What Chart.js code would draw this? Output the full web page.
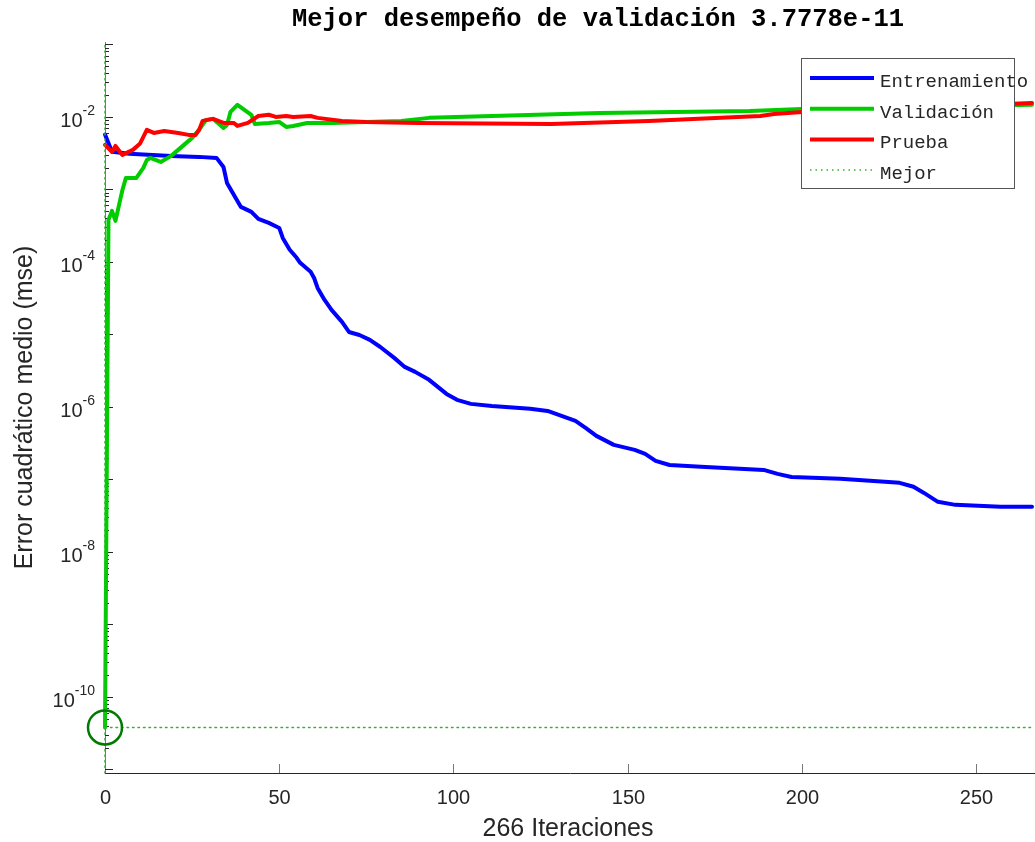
<!DOCTYPE html>
<html>
<head>
<meta charset="utf-8">
<script src="https://cdn.jsdelivr.net/npm/chart.js@4/dist/chart.umd.min.js"></script>
<style>
    body { margin: 0; background: #ffffff; }
    #perf { position: absolute; left: 0; top: 0; }
</style>
</head>
<body>
<canvas id="perf" width="1035" height="842"></canvas>
<script>
// epochs and mse
let trainEpochs = [0, 2, 7, 19, 27, 32, 34, 35, 37, 39, 42, 44, 47, 50, 51, 53, 55, 56, 59, 60,
    61, 63, 65, 68, 70, 73, 76, 79, 83, 86, 89, 93, 98, 101, 105, 111, 122, 127, 131, 135,
    138, 141, 146, 152, 155, 158, 162, 171, 189, 193, 197, 211, 228, 232, 235, 239, 244, 257, 266];
let trainMse = [5.7e-3, 3.3e-3, 3.1e-3, 2.9e-3, 2.81e-3, 2.72e-3, 2.04e-3, 1.23e-3, 8.4e-4, 5.74e-4,
    4.9e-4, 3.92e-4, 3.45e-4, 2.94e-4, 2.14e-4, 1.47e-4, 1.14e-4, 9.7e-5, 7.3e-5, 6.0e-5,
    4.38e-5, 2.99e-5, 2.18e-5, 1.49e-5, 1.08e-5, 9.8e-6, 8.4e-6, 6.7e-6, 4.74e-6, 3.56e-6,
    3.04e-6, 2.36e-6, 1.51e-6, 1.25e-6, 1.1e-6, 1.03e-6, 9.4e-7, 8.8e-7, 7.5e-7, 6.4e-7,
    5.1e-7, 3.98e-7, 2.99e-7, 2.55e-7, 2.25e-7, 1.8e-7, 1.58e-7, 1.49e-7, 1.35e-7, 1.19e-7,
    1.08e-7, 1.02e-7, 8.95e-8, 7.9e-8, 6.5e-8, 4.9e-8, 4.45e-8, 4.18e-8, 4.18e-8];

let valEpochs = [0, 1, 2, 3, 5, 6, 9, 11, 12, 13, 16, 19, 22, 24, 25, 27, 29, 31, 34, 35,
    36, 38, 40, 42, 43, 47, 50, 52, 54, 58, 65, 85, 93, 142, 185, 200, 266];
let valMse = [3.7778e-11, 3.8e-4, 5.05e-4, 3.68e-4, 9.8e-4, 1.44e-3, 1.44e-3, 1.98e-3, 2.55e-3, 2.72e-3,
    2.39e-3, 2.9e-3, 3.86e-3, 4.67e-3, 5.13e-3, 6.62e-3, 9.1e-3, 9.4e-3, 7.05e-3, 7.76e-3,
    1.17e-2, 1.47e-2, 1.25e-2, 1.07e-2, 8.0e-3, 8.26e-3, 8.53e-3, 7.28e-3, 7.51e-3, 8.26e-3,
    8.26e-3, 8.81e-3, 9.7e-3, 1.13e-2, 1.21e-2, 1.29e-2, 1.47e-2];

let testEpochs = [0, 2, 3, 5, 8, 10, 12, 14, 17, 21, 24, 26, 27, 28, 31, 34, 37, 38, 41, 44,
    47, 49, 52, 54, 59, 61, 68, 75, 90, 128, 156, 188, 192, 200, 266];
let testMse = [4.11e-3, 3.29e-3, 3.98e-3, 2.99e-3, 3.51e-3, 4.25e-3, 6.62e-3, 6.01e-3, 6.41e-3, 6.01e-3,
    5.65e-3, 5.65e-3, 6.62e-3, 8.81e-3, 9.4e-3, 8.26e-3, 8.26e-3, 7.51e-3, 8.26e-3, 1.03e-2,
    1.07e-2, 1.0e-2, 1.03e-2, 1.0e-2, 1.03e-2, 9.7e-3, 8.81e-3, 8.53e-3, 8.26e-3, 8.0e-3,
    8.81e-3, 1.03e-2, 1.1e-2, 1.17e-2, 1.56e-2];

let bestEpoch = 0;
let bestMse = 3.7778e-11;
let totalEpochs = 266;

let xTicks = [0, 50, 100, 150, 200, 250];
let yTickExps = [-10, -8, -6, -4, -2];

let legendNames = ["Entrenamiento", "Validación", "Prueba", "Mejor"];
let titleText = "Mejor desempeño de validación " + bestMse.toExponential(4);

let yMin = 8.9e-12;
let yMax = 0.108;

function pts(xs, ys) {
    return xs.map((x, i) => ({ x: x, y: ys[i] }));
}

const axisColor = "#262626";
const sans = "'Liberation Sans', Arial, Helvetica, sans-serif";
const mono = "'Liberation Mono', 'Courier New', monospace";

/* axes, ticks and tick labels drawn like the original figure */
const matlabAxes = {
    id: "matlabAxes",
    beforeDatasetsDraw(c) {
        let ctx = c.ctx;
        let a = c.chartArea;
        let xs = c.scales.x;
        let ys = c.scales.y;
        ctx.save();

        // bottom axis line
        ctx.strokeStyle = axisColor;
        ctx.lineWidth = 1;
        ctx.beginPath();
        ctx.moveTo(a.left, Math.round(a.bottom) + 0.5);
        ctx.lineTo(a.right + 5, Math.round(a.bottom) + 0.5);
        ctx.stroke();

        // left axis line
        ctx.strokeStyle = "#777777";
        ctx.beginPath();
        ctx.moveTo(a.left + 0.5, a.top);
        ctx.lineTo(a.left + 0.5, a.bottom);
        ctx.stroke();

        // x ticks
        ctx.strokeStyle = "#777777";
        ctx.fillStyle = axisColor;
        ctx.font = "20px " + sans;
        ctx.textAlign = "center";
        ctx.textBaseline = "middle";
        xTicks.forEach(t => {
            let px = Math.round(xs.getPixelForValue(t)) + 0.5;
            ctx.beginPath();
            ctx.moveTo(px, a.bottom);
            ctx.lineTo(px, a.bottom - 9);
            ctx.stroke();
            ctx.fillText(String(t), px, a.bottom + 25);
        });

        // y ticks, major and minor
        ctx.strokeStyle = axisColor;
        for (let e = -12; e <= -1; e++) {
            for (let m = 1; m <= 9; m++) {
                let v = m * Math.pow(10, e);
                if (v < yMin || v > yMax) continue;
                let py = Math.round(ys.getPixelForValue(v)) + 0.5;
                ctx.beginPath();
                ctx.moveTo(a.left, py);
                ctx.lineTo(a.left + (m === 1 ? 8 : 4), py);
                ctx.stroke();
            }
        }

        // y tick labels 10^n
        yTickExps.forEach(e => {
            let py = ys.getPixelForValue(Math.pow(10, e));
            let right = a.left - 10;
            ctx.font = "14px " + sans;
            let sup = "-" + String(-e);
            let supW = ctx.measureText(sup).width;
            ctx.textAlign = "left";
            ctx.textBaseline = "alphabetic";
            ctx.fillText(sup, right - supW, py - 2);
            ctx.font = "20px " + sans;
            ctx.textAlign = "right";
            ctx.fillText("10", right - supW, py + 10);
        });

        ctx.restore();
    },
    afterDatasetsDraw(c) {
        let ctx = c.ctx;
        let a = c.chartArea;
        let xs = c.scales.x;
        let ys = c.scales.y;
        ctx.save();

        // circle on the best validation epoch
        ctx.strokeStyle = "#007a00";
        ctx.lineWidth = 2.5;
        ctx.beginPath();
        ctx.arc(xs.getPixelForValue(bestEpoch), ys.getPixelForValue(bestMse), 17, 0, Math.PI * 2);
        ctx.stroke();

        // legend box
        let bx = 801, by = 58, bw = 213, bh = 130;
        ctx.fillStyle = "#ffffff";
        ctx.fillRect(bx, by, bw, bh);
        ctx.strokeStyle = "#555555";
        ctx.lineWidth = 1;
        ctx.strokeRect(bx + 0.5, by + 0.5, bw, bh);

        let rows = [
            { name: legendNames[0], color: "#0000ff", dash: [], w: 4 },
            { name: legendNames[1], color: "#00cc00", dash: [], w: 4 },
            { name: legendNames[2], color: "#ff0000", dash: [], w: 4 },
            { name: legendNames[3], color: "#33b033", dash: [1.5, 4], w: 1.5 }
        ];
        ctx.font = "19px " + mono;
        ctx.textAlign = "left";
        ctx.textBaseline = "middle";
        rows.forEach((r, i) => {
            let ly = 78 + i * 30.7;
            ctx.strokeStyle = r.color;
            ctx.lineWidth = r.w;
            ctx.setLineDash(r.dash);
            ctx.beginPath();
            ctx.moveTo(810, ly);
            ctx.lineTo(874, ly);
            ctx.stroke();
            ctx.setLineDash([]);
            ctx.fillStyle = "#262626";
            ctx.fillText(r.name, 880, ly + 4);
        });

        // title
        ctx.fillStyle = "#000000";
        ctx.font = "bold 25.5px " + mono;
        ctx.textAlign = "center";
        ctx.textBaseline = "middle";
        ctx.fillText(titleText, 598, 20);

        // axis titles
        ctx.fillStyle = axisColor;
        ctx.font = "25px " + sans;
        ctx.fillText(totalEpochs + " Iteraciones", 568, 829);

        ctx.textBaseline = "alphabetic";
        ctx.translate(32, (a.top + a.bottom) / 2);
        ctx.rotate(-Math.PI / 2);
        ctx.fillText("Error cuadrático medio (mse)", 0, 0);

        ctx.restore();
    }
};

new Chart(document.getElementById("perf"), {
    type: "line",
    data: {
        datasets: [
            {
                label: legendNames[0],
                data: pts(trainEpochs, trainMse),
                borderColor: "#0000ff",
                borderWidth: 4,
                order: 5
            },
            {
                label: legendNames[1],
                data: pts(valEpochs, valMse),
                borderColor: "#00cc00",
                borderWidth: 4,
                order: 4
            },
            {
                label: legendNames[2],
                data: pts(testEpochs, testMse),
                borderColor: "#ff0000",
                borderWidth: 4,
                order: 3
            },
            {
                label: legendNames[3],
                data: [{ x: 0, y: bestMse }, { x: totalEpochs, y: bestMse }],
                borderColor: "#33b033",
                borderWidth: 1.5,
                borderDash: [1.5, 4],
                order: 2
            },
            {
                label: "vertical",
                data: [{ x: bestEpoch, y: yMin }, { x: bestEpoch, y: yMax }],
                borderColor: "#33b033",
                borderWidth: 1.5,
                borderDash: [1.5, 4],
                order: 1
            }
        ]
    },
    options: {
        responsive: false,
        animation: false,
        clip: false,
        layout: {
            padding: { left: 105, right: 3, top: 42, bottom: 69 }
        },
        elements: {
            line: { tension: 0, fill: false, borderCapStyle: "round", borderJoinStyle: "round" },
            point: { radius: 0 }
        },
        plugins: {
            legend: { display: false },
            tooltip: { enabled: false }
        },
        scales: {
            x: { type: "linear", min: 0, max: totalEpochs, display: false },
            y: { type: "logarithmic", min: yMin, max: yMax, display: false }
        }
    },
    plugins: [matlabAxes]
});
</script>
</body>
</html>
